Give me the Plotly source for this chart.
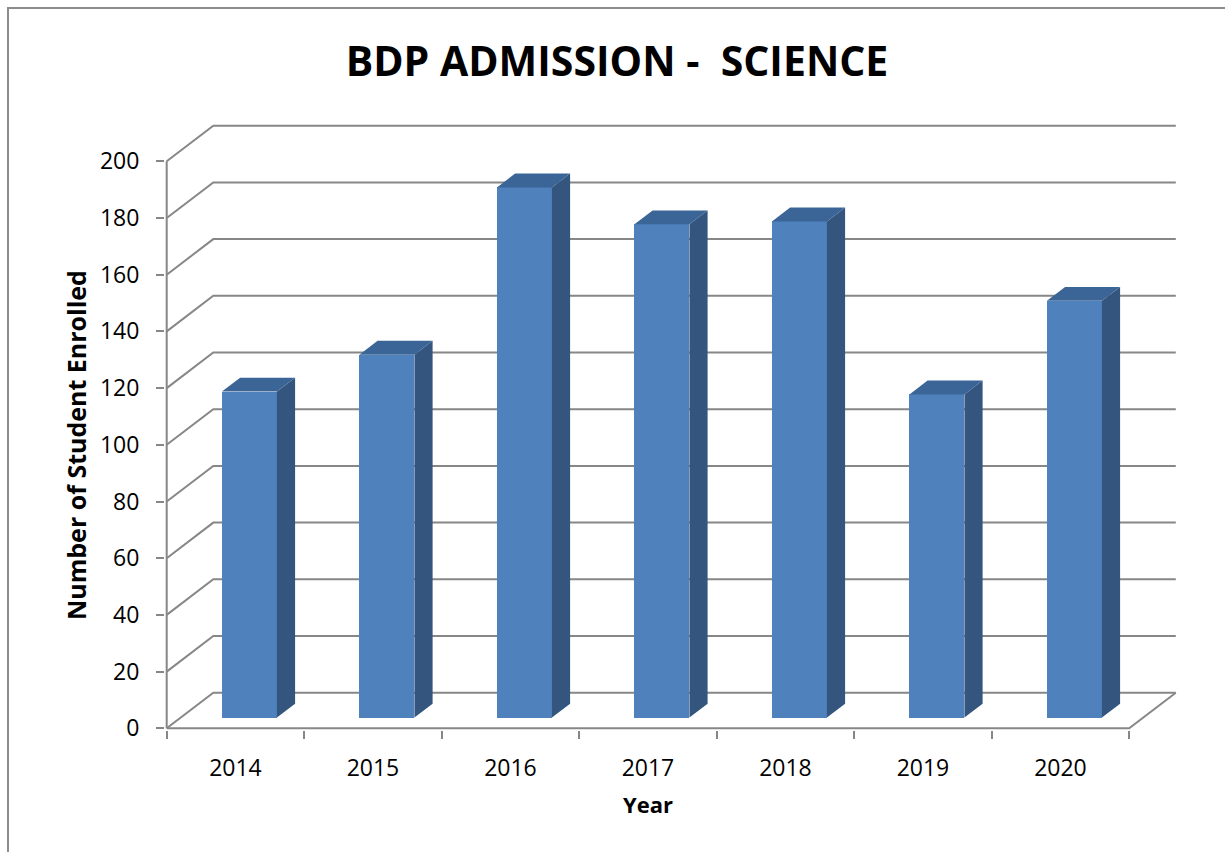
import plotly.graph_objects as go

# ---------------- data ----------------
years = ["2014", "2015", "2016", "2017", "2018", "2019", "2020"]
enrolled = [115, 128, 187, 174, 175, 114, 147]
y_ticks = [0, 20, 40, 60, 80, 100, 120, 140, 160, 180, 200]

# ---------------- geometry (pixels) ----------------
W, H = 1225, 852
PX_LEFT, PX_RIGHT, PX_TOP, PX_BOTTOM = 165, 1180, 120, 730
X0_PX = 166.7      # front-left corner of the floor
CAT_PX = 137.5     # width of one category
Y0_PX = 728.3      # front zero line
UNIT_PX = 2.835    # pixels per unit of value
DEPTH_DX_PX, DEPTH_DY_PX = 46.6, 35.6

dx_depth = DEPTH_DX_PX / CAT_PX
dy_depth = DEPTH_DY_PX / UNIT_PX
x_range = [-0.5 - (X0_PX - PX_LEFT) / CAT_PX, -0.5 + (PX_RIGHT - X0_PX) / CAT_PX]
y_range = [-(PX_BOTTOM - Y0_PX) / UNIT_PX, (Y0_PX - PX_TOP) / UNIT_PX]

GRID = "#878787"
FRONT = "#4F81BD"
SIDE = "#33557E"
TOP = "#3B6497"
FONT = "Open Sans, Noto Sans, sans-serif"

# bar placement inside the 3D box
front_frac, depth_frac, bar_w = 0.30, 0.39, 0.40
bar_base = front_frac * dy_depth
bar_shift = front_frac * dx_depth
bdx = depth_frac * dx_depth
bdy = depth_frac * dy_depth

pos = list(range(len(years)))
n = len(years)

fig = go.Figure()

# front faces
fig.add_trace(go.Bar(
    x=pos, y=enrolled, base=bar_base, width=bar_w, offset=-bar_w / 2 + bar_shift,
    marker=dict(color=FRONT, line=dict(width=0)),
    customdata=years, hovertemplate="%{customdata}: %{y}<extra></extra>",
    showlegend=False,
))

# side faces & top faces
sx, sy, tx, ty = [], [], [], []
for i, v in zip(pos, enrolled):
    xl = i - bar_w / 2 + bar_shift
    xr = xl + bar_w
    b = bar_base
    t = bar_base + v
    sx += [xr, xr + bdx, xr + bdx, xr, xr, None]
    sy += [b, b + bdy, t + bdy, t, b, None]
    tx += [xl, xr, xr + bdx, xl + bdx, xl, None]
    ty += [t, t, t + bdy, t + bdy, t, None]

fig.add_trace(go.Scatter(x=sx, y=sy, mode="lines", fill="toself", fillcolor=SIDE,
                         line=dict(width=0, color=SIDE), hoverinfo="skip", showlegend=False))
fig.add_trace(go.Scatter(x=tx, y=ty, mode="lines", fill="toself", fillcolor=TOP,
                         line=dict(width=0, color=TOP), hoverinfo="skip", showlegend=False))

# walls / gridlines as shapes below the traces
x_left = -0.5
x_right = n - 0.5
shapes = []
for v in y_ticks:
    path = (f"M {x_left},{v} L {x_left + dx_depth},{v + dy_depth} "
            f"L {x_right + dx_depth},{v + dy_depth}")
    shapes.append(dict(type="path", xref="x", yref="y", path=path,
                       line=dict(color=GRID, width=2), layer="below"))
# front floor edge + right floor edge
shapes.append(dict(type="path", xref="x", yref="y",
                   path=f"M {x_left},0 L {x_right},0 L {x_right + dx_depth},{dy_depth}",
                   line=dict(color=GRID, width=2), layer="below"))
# left vertical axis line
shapes.append(dict(type="line", xref="x", yref="y", x0=x_left, x1=x_left,
                   y0=0, y1=y_ticks[-1], line=dict(color=GRID, width=2), layer="below"))

# outer chart border
pw = PX_RIGHT - PX_LEFT
ph = PX_BOTTOM - PX_TOP
def px2paper_x(p):
    return (p - PX_LEFT) / pw
def px2paper_y(p):
    return (PX_BOTTOM - p) / ph
shapes.append(dict(type="rect", xref="paper", yref="paper",
                   x0=px2paper_x(8), x1=px2paper_x(1240),
                   y0=px2paper_y(870), y1=px2paper_y(8),
                   line=dict(color="#8C8C8C", width=2), layer="below"))

annotations = [
    dict(text="<b>Number of Student Enrolled</b>", textangle=-90,
         xref="paper", yref="paper", x=px2paper_x(76), y=px2paper_y(445),
         xanchor="center", yanchor="middle", showarrow=False,
         font=dict(family=FONT, size=25, color="black")),
    dict(text="<b>Year</b>",
         xref="paper", yref="paper", x=px2paper_x(648), y=px2paper_y(804),
         xanchor="center", yanchor="middle", showarrow=False,
         font=dict(family=FONT, size=22, color="black")),
]

fig.update_layout(
    width=W, height=H,
    margin=dict(l=PX_LEFT, r=W - PX_RIGHT, t=PX_TOP, b=H - PX_BOTTOM, autoexpand=False),
    paper_bgcolor="white", plot_bgcolor="white",
    shapes=shapes, annotations=annotations,
    title=dict(text="<b>BDP ADMISSION -\u00a0\u00a0SCIENCE</b>",
               x=617 / W, xref="container", xanchor="center",
               y=1 - 62 / H, yref="container", yanchor="middle",
               font=dict(family=FONT, size=41, color="black")),
    xaxis=dict(range=x_range, showgrid=False, zeroline=False, showline=False,
               tickmode="array", tickvals=pos, ticktext=years, ticks="",
               ticklabelstandoff=22,
               tickfont=dict(family=FONT, size=23, color="black"),
               minor=dict(tickmode="array", tickvals=[p - 0.5 for p in pos] + [pos[-1] + 0.5],
                          ticks="outside", ticklen=8, tickwidth=2, tickcolor=GRID)),
    yaxis=dict(range=y_range, showgrid=False, zeroline=False, showline=False,
               tickmode="array", tickvals=y_ticks, ticks="outside", ticklen=8,
               tickwidth=2, tickcolor=GRID, ticklabelstandoff=12,
               tickfont=dict(family=FONT, size=23, color="black")),
    bargap=0,
)

fig.write_html("out.html", config={"displayModeBar": False},
               post_script="document.body.style.margin='0';")
